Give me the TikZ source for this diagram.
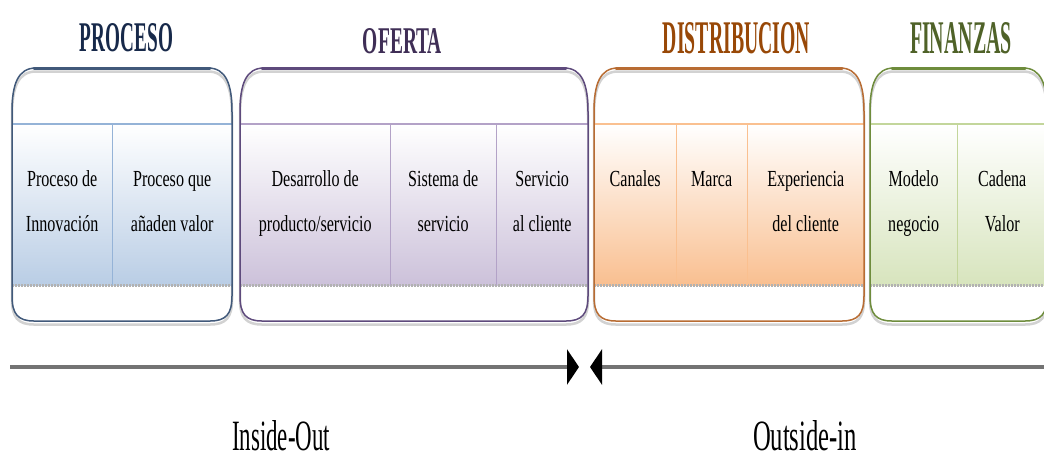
\documentclass[tikz,border=0pt]{standalone}
\usepackage{fontspec}
\setmainfont{Liberation Serif}
\usetikzlibrary{arrows.meta,calc}
\definecolor{pOut}{HTML}{41597A}
\definecolor{pLine}{HTML}{95B3D7}
\definecolor{pFill}{HTML}{B9CDE5}
\definecolor{pTitle}{HTML}{17294A}
\definecolor{oOut}{HTML}{5E4A7C}
\definecolor{oLine}{HTML}{B3A2C7}
\definecolor{oFill}{HTML}{CCC1DA}
\definecolor{oTitle}{HTML}{3F2E56}
\definecolor{dOut}{HTML}{B86C33}
\definecolor{dLine}{HTML}{FAC090}
\definecolor{dFill}{HTML}{F9BF90}
\definecolor{dTitle}{HTML}{984807}
\definecolor{fOut}{HTML}{6E8C3C}
\definecolor{fLine}{HTML}{C3D69B}
\definecolor{fFill}{HTML}{D7E4BD}
\definecolor{fTitle}{HTML}{4F6228}
\newcommand{\sq}[1]{\scalebox{0.7}[1]{#1}}
\newcommand{\fs}{\rule{0pt}{17pt}}
\newcommand{\two}[2]{\sq{\fs #1}\\\sq{#2}}
\newcommand{\grppath}[2]{(#1,296) -- (#1,112) .. controls (#1,84) and (#1+6,68) .. (#1+24,68) -- (#2-24,68) .. controls (#2-6,68) and (#2,84) .. (#2,112) -- (#2,296) .. controls (#2,314) and (#2-6,321) .. (#2-22,321) -- (#1+22,321) .. controls (#1+6,321) and (#1,314) .. (#1,296) -- cycle}
\newcommand{\grpshadow}[2]{\draw[gray!35, line width=2.5pt, yshift=-3.5pt] \grppath{#1}{#2};}
\newcommand{\grpoutline}[3]{\draw[#3, line width=1.5pt] \grppath{#1}{#2};
  \draw[#3, line width=3pt, line cap=round] (#1+22,68) -- (#2-22,68);}
\begin{document}
\begin{tikzpicture}[x=1pt,y=-1pt,
  cell/.style={draw=none, inner sep=0, anchor=north west, minimum height=161pt},
  ctext/.style={anchor=north, inner sep=0, align=center, font=\fontsize{23}{45}\selectfont},
  ttl/.style={anchor=base, inner sep=0},
  dotl/.style={gray!60, line width=3pt, dash pattern=on 1.5pt off 1.5pt},
  arrline/.style={black!55, line width=4.5pt},
  lbl/.style={anchor=base, inner sep=0}]
\useasboundingbox (0,0) rectangle (1044,459);
\clip (0,0) rectangle (1044,459);
\fill[white] (0,0) rectangle (1044,459);

% titles
\node[ttl, text=pTitle] (tP) at (126.5,51) {\resizebox{93pt}{28pt}{\bfseries PROCESO}};
\node[ttl, text=oTitle] (tO) at (402.5,53) {\resizebox{79pt}{25pt}{\bfseries OFERTA}};
\node[ttl, text=dTitle] (tD) at (736.5,53) {\resizebox{147pt}{31pt}{\bfseries DISTRIBUCION}};
\node[ttl, text=fTitle] (tF) at (961,53) {\resizebox{102pt}{31pt}{\bfseries FINANZAS}};

% shadows
\grpshadow{12}{232}
\grpshadow{240}{588}
\grpshadow{594}{864}
\grpshadow{870}{1047}

% PROCESO cells
\node[cell, minimum width=100pt, top color=white, bottom color=pFill] (p1) at (12,124) {};
\node[cell, minimum width=120pt, top color=white, bottom color=pFill] (p2) at (112,124) {};
% OFERTA cells
\node[cell, minimum width=150pt, top color=white, bottom color=oFill] (o1) at (240,124) {};
\node[cell, minimum width=106pt, top color=white, bottom color=oFill] (o2) at (390,124) {};
\node[cell, minimum width=92pt, top color=white, bottom color=oFill] (o3) at (496,124) {};
% DISTRIBUCION cells
\node[cell, minimum width=82pt, top color=white, bottom color=dFill] (d1) at (594,124) {};
\node[cell, minimum width=71pt, top color=white, bottom color=dFill] (d2) at (676,124) {};
\node[cell, minimum width=117pt, top color=white, bottom color=dFill] (d3) at (747,124) {};
% FINANZAS cells
\node[cell, minimum width=87pt, top color=white, bottom color=fFill] (f1) at (870,124) {};
\node[cell, minimum width=90pt, top color=white, bottom color=fFill] (f2) at (957,124) {};

% dotted bottoms
\draw[dotl] (p1.south west) -- (p2.south east);
\draw[dotl] (o1.south west) -- (o3.south east);
\draw[dotl] (d1.south west) -- (d3.south east);
\draw[dotl] (f1.south west) -- (f2.south east);

% dividers
\draw[pLine, line width=1.5pt] (p1.north east) -- (p1.south east);
\draw[oLine, line width=1.5pt] (o1.north east) -- (o1.south east);
\draw[oLine, line width=1.5pt] (o2.north east) -- (o2.south east);
\draw[dLine, line width=1.5pt] (d1.north east) -- (d1.south east);
\draw[dLine, line width=1.5pt] (d2.north east) -- (d2.south east);
\draw[fLine, line width=1.5pt] (f1.north east) -- (f1.south east);

% band top lines
\draw[pLine, line width=2.5pt] (p1.north west) -- (p2.north east);
\draw[oLine, line width=2.5pt] (o1.north west) -- (o3.north east);
\draw[dLine, line width=2.5pt] (d1.north west) -- (d3.north east);
\draw[fLine, line width=2.5pt] (f1.north west) -- (f2.north east);

% outlines
\grpoutline{12}{232}{pOut}
\grpoutline{240}{588}{oOut}
\grpoutline{594}{864}{dOut}
\grpoutline{870}{1047}{fOut}

% cell texts
\node[ctext] (tp1) at ($(p1.north)+(0,45)$) {\two{Proceso de}{Innovación}};
\node[ctext] (tp2) at ($(p2.north)+(0,45)$) {\two{Proceso que}{añaden valor}};
\node[ctext] (to1) at ($(o1.north)+(0,45)$) {\two{Desarrollo de}{producto/servicio}};
\node[ctext] (to2) at ($(o2.north)+(0,45)$) {\two{Sistema de}{servicio}};
\node[ctext] (to3) at ($(o3.north)+(0,45)$) {\two{Servicio}{al cliente}};
\node[ctext] (td1) at ($(d1.north)+(0,45)$) {\sq{\fs Canales}};
\node[ctext] (td2) at ($(d2.north)+(0,45)$) {\sq{\fs Marca}};
\node[ctext] (td3) at ($(d3.north)+(0,45)$) {\two{Experiencia}{del cliente}};
\node[ctext] (tf1) at ($(f1.north)+(0,45)$) {\two{Modelo}{negocio}};
\node[ctext] (tf2) at ($(f2.north)+(0,45)$) {\two{Cadena}{Valor}};

% arrows
\coordinate (la) at (10,367);
\coordinate (lt) at (579,367);
\coordinate (ra) at (1044,367);
\coordinate (rt) at (590,367);
\draw[arrline, -{Triangle[length=12pt,width=35pt,black]}] (la) -- (lt);
\draw[arrline, -{Triangle[length=12pt,width=35pt,black]}] (ra) -- (rt);

% labels
\node[lbl] (lin) at (281,450) {\resizebox{98pt}{30pt}{Inside-Out}};
\node[lbl] (lout) at (805,450) {\resizebox{104pt}{30pt}{Outside-in}};
\end{tikzpicture}
\end{document}
